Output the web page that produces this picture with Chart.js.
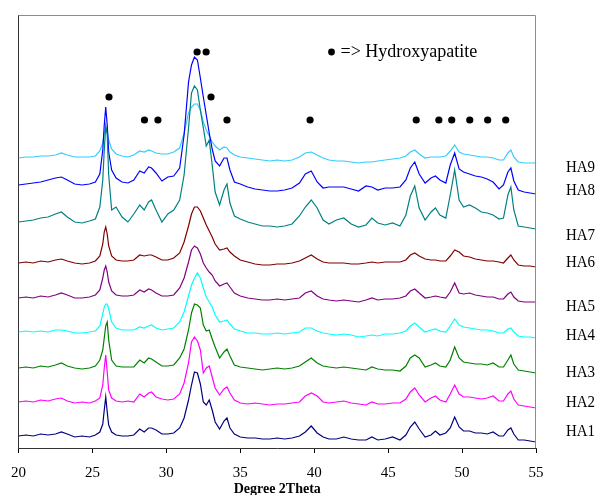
<!DOCTYPE html>
<html>
<head>
<meta charset="utf-8">
<script src="https://cdn.jsdelivr.net/npm/chart.js@4"></script>
<style>
  html, body { margin: 0; padding: 0; background: #fff; }
  canvas { display: block; }
</style>
</head>
<body>
<canvas id="xrdChart" width="596" height="495"></canvas>
<script>
// 2-theta positions (degrees), shared by all patterns
var twoTheta = [20, 20.5, 21, 21.5, 22, 22.5, 22.9, 23.3, 23.8, 24.3,
  24.8, 25.2, 25.5, 25.7, 25.8, 25.9, 26.0, 26.1, 26.3, 26.6,
  27, 27.4, 27.8, 28.2, 28.5, 28.8, 29.0, 29.3, 29.7, 30.1,
  30.5, 30.9, 31.2, 31.5, 31.7, 31.9, 32.1, 32.3, 32.5, 32.7,
  32.9, 33.1, 33.3, 33.6, 33.9, 34.1, 34.3, 34.6, 35, 35.5,
  36, 36.5, 37, 37.5, 38, 38.5, 39, 39.4, 39.8, 40.2,
  40.6, 41, 41.5, 42, 42.5, 43, 43.5, 43.9, 44.3, 44.8,
  45.3, 45.8, 46.2, 46.5, 46.8, 47.1, 47.5, 47.9, 48.2, 48.5,
  48.9, 49.2, 49.5, 49.8, 50.1, 50.5, 50.9, 51.3, 51.7, 52.1,
  52.5, 52.8, 53.1, 53.3, 53.5, 53.8, 54.2, 54.6, 55];

// intensity of each sample (already stacked, arbitrary units)
var ha1 = [12, 13, 12, 14, 13, 14, 16, 14, 11, 12,
  11, 13, 16, 24, 38, 51, 36, 23, 16, 13,
  12, 12, 13, 19, 16, 20, 20, 18, 14, 14,
  15, 20, 30, 48, 63, 76, 75, 64, 46, 43,
  48, 38, 26, 19, 27, 30, 20, 14, 11, 10,
  10, 9, 9, 10, 9, 10, 12, 16, 22, 15,
  11, 9, 9, 11, 9, 8, 8, 11, 8, 9,
  11, 8, 13, 21, 26, 19, 11, 13, 17, 13,
  15, 20, 31, 21, 17, 17, 15, 15, 14, 16,
  12, 12, 18, 20, 14, 8, 8, 7, 6];
var ha2 = [46, 47, 46, 48, 47, 49, 50, 47, 45, 46,
  45, 47, 50, 63, 80, 93, 76, 58, 50, 47,
  46, 47, 46, 54, 51, 55, 56, 51, 49, 48,
  49, 54, 65, 85, 106, 111, 107, 98, 75, 80,
  82, 71, 60, 53, 59, 61, 55, 48, 45, 44,
  45, 44, 43, 44, 44, 45, 46, 52, 55, 52,
  46, 45, 46, 47, 45, 44, 43, 46, 44, 44,
  45, 45, 49, 56, 60, 53, 46, 50, 52, 48,
  46, 54, 63, 54, 51, 51, 50, 49, 50, 52,
  47, 47, 54, 57, 49, 43, 42, 41, 40];
var ha3 = [80, 81, 80, 82, 81, 83, 85, 82, 80, 79,
  80, 82, 88, 98, 110, 122, 126, 108, 88, 82,
  81, 81, 81, 88, 85, 90, 89, 86, 82, 82,
  83, 90, 99, 118, 135, 144, 143, 140, 123, 117,
  118, 109, 101, 90, 96, 99, 92, 83, 81, 80,
  79, 78, 79, 80, 79, 80, 82, 86, 90, 85,
  82, 81, 80, 81, 80, 79, 78, 81, 79, 78,
  78, 77, 82, 90, 93, 90, 81, 83, 85, 82,
  81, 88, 101, 90, 86, 85, 84, 84, 83, 85,
  81, 81, 88, 93, 84, 78, 77, 76, 75];
var ha4 = [116, 117, 116, 117, 116, 118, 118, 117, 115, 115,
  116, 117, 122, 134, 141, 144, 144, 139, 126, 120,
  118, 118, 118, 121, 120, 122, 123, 120, 118, 119,
  120, 126, 136, 152, 163, 170, 175, 170, 160, 151,
  146, 141, 133, 126, 127, 128, 124, 119, 117, 115,
  115, 114, 114, 115, 114, 115, 116, 120, 120, 117,
  115, 114, 113, 114, 113, 111, 112, 113, 112, 114,
  114, 115, 117, 122, 125, 121, 116, 118, 119, 117,
  116, 122, 129, 123, 121, 120, 119, 118, 118, 117,
  115, 115, 119, 120, 116, 112, 111, 111, 110];
var ha5 = [150, 151, 150, 152, 151, 153, 155, 153, 150, 150,
  151, 153, 158, 170, 178, 182, 176, 166, 157, 153,
  152, 152, 153, 158, 156, 159, 158, 155, 152, 152,
  153, 160, 170, 186, 198, 202, 200, 194, 185, 180,
  176, 173, 167, 162, 164, 165, 161, 155, 152, 150,
  149, 148, 148, 149, 148, 149, 150, 155, 157, 152,
  149, 148, 147, 148, 147, 146, 148, 150, 148, 149,
  149, 150, 152, 157, 159, 155, 150, 151, 152, 151,
  150, 156, 165, 155, 154, 155, 153, 152, 151, 151,
  149, 149, 154, 156, 151, 147, 146, 146, 146];
var ha6 = [185, 186, 185, 187, 186, 188, 189, 187, 185, 184,
  185, 187, 192, 204, 216, 221, 214, 202, 192, 188,
  187, 187, 188, 193, 192, 193, 193, 191, 188, 188,
  190, 195, 206, 222, 234, 241, 241, 237, 230, 223,
  217, 211, 204, 198, 199, 200, 196, 192, 188, 186,
  184, 183, 183, 184, 184, 185, 187, 190, 193, 189,
  186, 185, 185, 185, 184, 184, 185, 186, 185, 186,
  186, 186, 188, 193, 195, 192, 189, 188, 188, 187,
  187, 192, 198, 196, 192, 191, 189, 188, 187, 187,
  186, 185, 190, 193, 188, 183, 182, 182, 181];
var ha7 = [226, 227, 228, 230, 231, 234, 236, 231, 226, 225,
  227, 229, 241, 268, 298, 322, 313, 273, 238, 241,
  231, 226, 234, 243, 238, 246, 248, 238, 226, 234,
  238, 248, 273, 320, 355, 362, 358, 338, 320, 302,
  308, 283, 256, 243, 258, 264, 245, 232, 229, 226,
  224, 222, 222, 221, 222, 224, 232, 241, 248, 240,
  228, 224, 228, 230, 224, 221, 223, 230, 225, 223,
  225, 222, 233, 252, 262, 240, 228, 236, 240, 233,
  230, 253, 278, 248, 241, 243, 240, 236, 235, 233,
  229, 230, 253, 261, 238, 222, 221, 220, 219];
var ha8 = [263, 264, 265, 266, 268, 270, 271, 268, 264, 263,
  264, 266, 274, 298, 323, 341, 323, 296, 278, 270,
  266, 265, 268, 277, 275, 281, 280, 275, 267, 271,
  272, 280, 313, 366, 383, 391, 388, 370, 351, 333,
  315, 299, 287, 282, 290, 290, 278, 266, 264, 261,
  259, 258, 257, 257, 258, 260, 265, 274, 277, 266,
  260, 261, 261, 261, 259, 257, 262, 261, 258, 260,
  260, 261, 268, 280, 286, 274, 265, 270, 272, 268,
  265, 283, 295, 279, 276, 274, 272, 271, 269, 266,
  259, 263, 276, 280, 267, 258, 256, 255, 254];
var ha9 = [290, 291, 291, 292, 292, 293, 295, 293, 291, 291,
  291, 292, 297, 305, 315, 321, 317, 308, 299, 294,
  292, 291, 293, 297, 296, 298, 297, 295, 294, 294,
  296, 300, 315, 335, 341, 344, 344, 338, 326, 318,
  312, 306, 302, 298, 301, 300, 296, 293, 291, 290,
  289, 288, 287, 288, 287, 288, 291, 295, 296, 293,
  290, 288, 287, 287, 286, 285, 286, 286, 287, 288,
  289, 290, 292, 296, 298, 294, 290, 291, 291, 291,
  292, 297, 303, 296, 294, 293, 292, 291, 291, 290,
  288, 288, 295, 298, 291, 286, 285, 285, 285];

var sampleNames = ['HA1', 'HA2', 'HA3', 'HA4', 'HA5', 'HA6', 'HA7', 'HA8', 'HA9'];
var sampleData = [ha1, ha2, ha3, ha4, ha5, ha6, ha7, ha8, ha9];
var sampleColors = ['#000080', '#ff00ff', '#008000', '#00ffff', '#800080',
  '#800000', '#008080', '#0000ff', '#33ccff'];
// height at which each sample name sits on the right
var labelLevels = [16, 45, 75, 112, 141, 185, 212, 257, 280];

// hydroxyapatite reflections and the height of their markers
var hapPeaks = [26.12, 28.52, 29.43, 32.08, 32.69, 33.02, 34.10, 39.72,
  46.90, 48.43, 49.30, 50.52, 51.73, 52.95];
var hapMarkY = [351, 328, 328, 396, 396, 351, 328, 328,
  328, 328, 328, 328, 328, 328];

var serif = '"Liberation Serif", "Times New Roman", serif';

var datasets = sampleData.map(function (vals, i) {
  return {
    label: sampleNames[i],
    data: vals.map(function (v, k) { return { x: twoTheta[k], y: v }; }),
    borderColor: sampleColors[i],
    borderWidth: 1.2,
    pointRadius: 0,
    fill: false,
    tension: 0
  };
});
datasets.push({
  type: 'scatter',
  label: 'Hydroxyapatite',
  data: hapPeaks.map(function (p, k) { return { x: p, y: hapMarkY[k] }; }),
  backgroundColor: '#000',
  borderWidth: 0,
  pointRadius: 3.6,
  showLine: false
});

// frame, sample names and the marker key
var extras = {
  id: 'extras',
  afterDraw: function (chart) {
    var ctx = chart.ctx, a = chart.chartArea, ys = chart.scales.y;
    ctx.save();
    ctx.strokeStyle = '#8c8c8c';
    ctx.lineWidth = 1;
    ctx.beginPath();
    ctx.moveTo(a.left, a.top + 0.5);
    ctx.lineTo(a.right - 0.5, a.top + 0.5);
    ctx.lineTo(a.right - 0.5, a.bottom);
    ctx.stroke();

    ctx.fillStyle = '#000';
    ctx.textBaseline = 'middle';
    ctx.font = '17px ' + serif;
    sampleNames.forEach(function (n, i) {
      ctx.save();
      ctx.translate(a.right + 30, ys.getPixelForValue(labelLevels[i]));
      ctx.scale(0.88, 1);
      ctx.fillText(n, 0, 0);
      ctx.restore();
    });

    // key: one marker dot and its meaning
    var ky = ys.getPixelForValue(396);
    ctx.beginPath();
    ctx.arc(a.left + 313, ky, 3.4, 0, Math.PI * 2);
    ctx.fill();
    ctx.font = '18px ' + serif;
    ctx.fillText('=> Hydroxyapatite', a.left + 322, ky);
    ctx.restore();
  }
};

new Chart(document.getElementById('xrdChart'), {
  type: 'line',
  data: { datasets: datasets },
  plugins: [extras],
  options: {
    responsive: false,
    animation: false,
    layout: { padding: { top: 15, right: 60, left: 0, bottom: 0 } },
    plugins: { legend: { display: false }, tooltip: { enabled: false } },
    scales: {
      x: {
        type: 'linear',
        min: 20,
        max: 55,
        ticks: { stepSize: 5, color: '#000', padding: 11, font: { family: serif, size: 15 } },
        grid: { drawOnChartArea: false, drawTicks: true, tickLength: 5, color: '#000' },
        border: { display: true, color: '#333', width: 1 },
        title: {
          display: true,
          text: 'Degree 2Theta',
          color: '#000',
          font: { family: serif, size: 14, weight: 'bold' },
          padding: { top: 0, bottom: -3 }
        },
        afterFit: function (s) { s.height = 47; }
      },
      y: {
        min: 0,
        max: 433,
        ticks: { display: false },
        grid: { display: false, drawTicks: false },
        border: { display: true, color: '#333', width: 1 },
        afterFit: function (s) { s.width = 17; }
      }
    }
  }
});
</script>
</body>
</html>
